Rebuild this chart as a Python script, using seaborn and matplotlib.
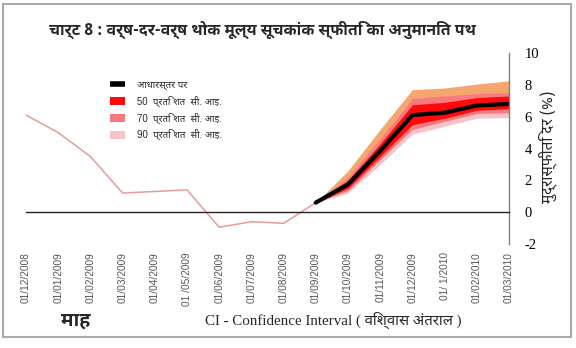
import matplotlib
matplotlib.use("Agg")
import matplotlib.pyplot as plt
from matplotlib import font_manager
from matplotlib.ft2font import FT2Font
from matplotlib.patches import Patch, Rectangle
from matplotlib.lines import Line2D
import seaborn as sns
import pandas as pd
import numpy as np

# ---------------- data ----------------
dates = ['01/12/2008', '01/01/2009', '01/02/2009', '01/03/2009', '01/04/2009',
         '01 /05/2009', '01/06/2009', '01/07/2009', '01/08/2009', '01/09/2009',
         '01/10/2009', '01/11/2009', '01/12/2009', '01/ 1/2010', '01/02/2010',
         '01/03/2010']
actual = [6.1, 5.0, 3.5, 1.2, 1.3, 1.4, -0.95, -0.6, -0.7, 0.6]
proj_idx = [9, 10, 11, 12, 13, 14, 15]
baseline = [0.6, 1.75, 3.85, 6.1, 6.25, 6.7, 6.8]
lo90 = [0.6, 1.2, 3.0, 4.9, 5.4, 5.9, 5.95]
hi90 = [0.6, 2.6, 5.2, 7.7, 7.8, 8.05, 8.25]
lo70 = [0.6, 1.35, 3.3, 5.2, 5.7, 6.2, 6.25]
hi70 = [0.6, 2.2, 4.6, 7.15, 7.3, 7.45, 7.5]
lo50 = [0.6, 1.5, 3.5, 5.5, 5.9, 6.4, 6.5]
hi50 = [0.6, 2.0, 4.3, 6.75, 6.9, 7.2, 7.3]
yticks = [-2, 0, 2, 4, 6, 8, 10]
legend_labels = ['आधारस्तर पर', '50  प्रति शत  सी. आइ.',
                 '70  प्रति शत  सी. आइ.', '90  प्रति शत  सी. आइ.']
title = 'चार्ट 8 : वर्ष-दर-वर्ष थोक मूल्य सूचकांक स्फीति का अनुमानित पथ'
ylabel = 'मुद्रास्फीति दर (%)'
xlabel_left = 'माह'
xlabel_mid = 'CI - Confidence Interval ( विश्वास अंतराल )'

# ---------------- fonts ----------------
sns.set_theme(style='white')
cands = []
for fe in font_manager.fontManager.ttflist:
    try:
        f = FT2Font(fe.fname)
        cm = f.get_charmap()
        if 0x0915 in cm and 0x093F in cm:
            f.set_size(20, 72)
            f.set_text('कमल')
            w = f.get_width_height()[0]
            pref = 0 if 'devanagari' in fe.name.lower() else 1
            cands.append((pref, w, fe.name))
    except Exception:
        pass
cands.sort()
dev_font = cands[0][2] if cands else None
fams = ([dev_font] if dev_font else []) + ['DejaVu Sans']
plt.rcParams['font.family'] = fams
serif_fams = ['Liberation Serif'] + ([dev_font] if dev_font else []) + ['DejaVu Sans']
sans_fams = ['Liberation Sans'] + ([dev_font] if dev_font else []) + ['DejaVu Sans']

# ---------------- figure ----------------
fig = plt.figure(figsize=(5.76, 3.48), dpi=100)
ax = fig.add_axes([26/576, 1-244/348, (509-26)/576, (244-53)/348])

df_act = pd.DataFrame({'x': np.arange(len(actual)), 'y': actual})
df_base = pd.DataFrame({'x': proj_idx, 'y': baseline})

px = np.array(proj_idx)
base_a = np.array(baseline)
ax.fill_between(px, base_a, hi90, color='#F5A66E', lw=0)
ax.fill_between(px, lo90, base_a, color='#F6C4C8', lw=0)
ax.fill_between(px, lo70, hi70, color='#F77B7E', lw=0)
ax.fill_between(px, lo50, hi50, color='#FF0A0A', lw=0)

sns.lineplot(data=df_act, x='x', y='y', ax=ax, color='#E99A9A', lw=1.1)
sns.lineplot(data=df_base, x='x', y='y', ax=ax, color='black', lw=3)

ax.set_xlim(0, 15)
ax.set_ylim(-2, 10)
ax.set_xlabel('')
ax.set_ylabel('')

for s in ['left', 'top']:
    ax.spines[s].set_visible(False)
ax.spines['right'].set_color('#808080')
ax.spines['right'].set_linewidth(1.0)
ax.spines['bottom'].set_position(('data', 0))
ax.spines['bottom'].set_color('#222222')
ax.spines['bottom'].set_linewidth(1.0)

ax.yaxis.tick_right()
ax.set_yticks(yticks)
ax.set_yticklabels([str(v) for v in yticks], fontfamily=serif_fams, fontsize=10.5)
ax.tick_params(axis='y', length=0, pad=11, colors='black')

ax.set_xticks(range(0, 16, 3))
ax.tick_params(axis='x', length=5, direction='out', color='#222222', labelbottom=False)

sec = ax.secondary_xaxis('bottom')
sec.set_xticks(range(len(dates)))
sec.set_xticklabels(dates, rotation=90, fontfamily=sans_fams, fontsize=7.3, color='#555555')
sec.tick_params(length=0, pad=6)
sec.spines['bottom'].set_visible(False)

renderer = fig.canvas.get_renderer()


def fit(t, target, vertical=False, maxfs=14):
    bb = t.get_window_extent(renderer)
    size = bb.height if vertical else bb.width
    fs = t.get_fontsize() * target / max(size, 1)
    t.set_fontsize(min(fs, maxfs))
    return t


# legend font size fitted to reference label width
probe = fig.text(0, 0, legend_labels[1], fontsize=7, family=sans_fams)
fit(probe, 85, maxfs=8)
leg_fs = probe.get_fontsize()
probe.remove()

handles = [Line2D([], [], color='black', lw=4, solid_capstyle='butt'),
           Patch(facecolor='#FF0A0A', edgecolor='none'),
           Patch(facecolor='#F77B7E', edgecolor='none'),
           Patch(facecolor='#F6C4C8', edgecolor='none')]
leg = ax.legend(handles, legend_labels, loc='upper left',
                bbox_to_anchor=((106-26)/(509-26), (244-76)/(244-53)),
                frameon=False, prop={'family': sans_fams, 'size': leg_fs},
                handlelength=1.6 * 7 / leg_fs, handleheight=0.9 * 7 / leg_fs,
                labelspacing=0.55 * 7 / leg_fs,
                handletextpad=1.2 * 7 / leg_fs, borderaxespad=0)

t1 = fig.text(262/576, 1-30/348, title, ha='center', va='center', fontsize=12.5,
              fontweight='bold', family=fams)
fit(t1, 428)
t2 = fig.text(548/576, 1-147/348, ylabel, rotation=90, ha='center', va='center',
              fontsize=11.5, family=fams)
fit(t2, 112, vertical=True)
t3 = fig.text(76/576, 1-320/348, xlabel_left, ha='center', va='center', fontsize=11,
              fontweight='bold', family=fams)
fit(t3, 34)
t4 = fig.text(333/576, 1-320/348, xlabel_mid, ha='center', va='center', fontsize=10.5,
              family=serif_fams)
fit(t4, 256)

fig.patches.append(Rectangle((3/576, 1-337/348), (571-3)/576, (337-4)/348,
                             transform=fig.transFigure, fill=False,
                             edgecolor='#AAAAAA', lw=1.5))

fig.savefig('out.png', dpi=100)
